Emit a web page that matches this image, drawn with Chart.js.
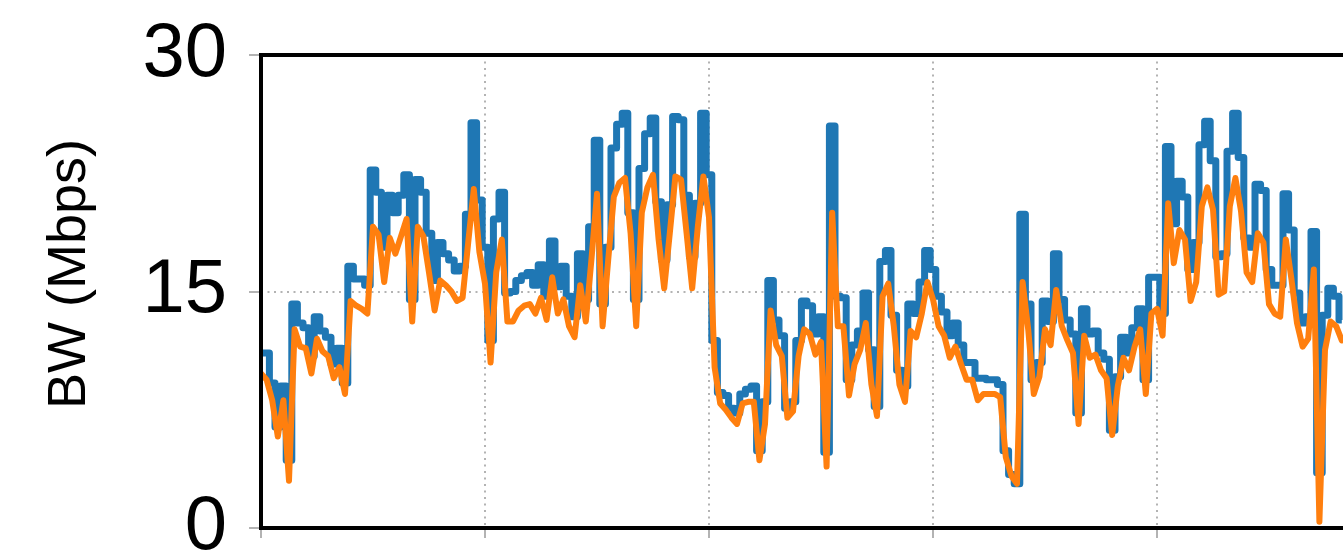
<!DOCTYPE html>
<html>
<head>
<meta charset="utf-8">
<script src="https://cdn.jsdelivr.net/npm/chart.js@4/dist/chart.umd.min.js"></script>
<style>
  html, body { margin: 0; padding: 0; background: #ffffff; overflow: hidden; width: 1343px; height: 554px; }
  #wrap { position: absolute; left: 0; top: 0; width: 1343px; height: 554px; overflow: hidden; }
  #bw { position: absolute; left: 0; top: 0; width: 1400px; height: 554px; }
</style>
</head>
<body>
<div id="wrap"><canvas id="bw" width="1400" height="554"></canvas></div>
<script>
// Measured throughput per sample (Mbps), drawn as a step trace
const measuredBW = [
  11.1, 11.1, 9.2, 6.4, 9.0, 4.3, 14.2, 13.0, 12.7, 10.9,
  13.4, 12.5, 12.1, 10.4, 11.4, 9.2, 16.6, 15.8, 15.8, 15.4,
  22.7, 21.3, 17.8, 21.1, 20.0, 21.1, 22.4, 14.5, 22.1, 21.3,
  18.7, 15.7, 18.1, 17.4, 17.0, 16.3, 16.6, 19.9, 25.7, 20.8,
  17.8, 11.9, 19.6, 21.3, 14.9, 15.0, 15.7, 16.0, 16.2, 15.4,
  16.7, 14.7, 18.2, 15.3, 16.6, 14.7, 13.4, 17.4, 14.5, 19.1,
  24.6, 14.2, 17.8, 24.1, 25.6, 26.3, 20.0, 14.5, 22.8, 25.0,
  26.0, 20.7, 17.0, 20.5, 26.1, 25.9, 21.1, 17.2, 20.6, 26.3,
  22.4, 11.9, 8.6, 8.4, 7.6, 7.3, 8.5, 8.8, 9.0, 4.9,
  8.0, 15.7, 13.2, 12.2, 7.6, 8.0, 11.9, 14.4, 14.1, 12.3,
  13.4, 4.8, 25.5, 14.7, 14.6, 9.4, 11.6, 12.5, 14.9, 11.3,
  7.7, 16.9, 17.6, 13.5, 10.0, 9.0, 14.2, 13.6, 15.6, 17.6,
  16.4, 14.7, 13.7, 12.2, 13.0, 11.6, 10.5, 10.5, 9.5, 9.5,
  9.4, 9.4, 9.1, 4.9, 3.4, 2.8, 19.9, 14.2, 9.4, 10.5,
  14.4, 13.1, 17.4, 14.5, 13.2, 12.3, 7.3, 13.9, 12.3, 12.5,
  11.1, 10.7, 6.2, 9.6, 12.1, 11.1, 12.7, 13.9, 9.4, 15.9,
  15.9, 13.6, 24.2, 19.3, 22.0, 21.0, 16.4, 18.1, 24.3, 25.8,
  23.3, 17.2, 17.4, 23.9, 26.3, 23.5, 18.4, 17.8, 21.8, 21.4,
  16.4, 15.4, 15.4, 21.2, 18.9, 14.9, 13.0, 13.4, 18.8, 3.5,
  13.5, 15.2, 14.7, 13.2
];

// Estimated throughput per sample (Mbps), drawn as a plain polyline
const estimatedBW = [
  9.8, 9.4, 8.1, 5.8, 8.1, 3.0, 12.6, 11.5, 11.4, 9.8,
  12.0, 11.2, 10.9, 9.5, 10.2, 8.5, 14.4, 14.1, 13.9, 13.6,
  19.1, 18.6, 15.6, 18.4, 17.4, 18.5, 19.6, 13.1, 19.1, 18.5,
  16.2, 13.8, 15.7, 15.4, 15.0, 14.4, 14.6, 18.1, 21.5, 17.5,
  15.5, 10.5, 16.2, 18.3, 13.1, 13.1, 13.8, 14.1, 14.2, 13.6,
  14.6, 13.2, 15.9, 13.6, 14.5, 12.8, 12.1, 15.4, 13.1, 17.0,
  21.2, 12.8, 17.0, 21.0, 21.9, 22.2, 18.7, 12.8, 20.0, 21.6,
  22.4, 18.3, 15.2, 18.7, 22.3, 22.1, 18.7, 15.2, 19.1, 22.3,
  19.7, 10.2, 7.9, 7.5, 7.0, 6.6, 7.9, 8.0, 8.0, 4.3,
  6.6, 13.8, 11.6, 10.9, 7.0, 7.4, 10.9, 12.6, 12.3, 11.0,
  11.8, 3.9, 20.0, 12.8, 12.8, 8.4, 10.4, 11.3, 13.0, 9.1,
  7.1, 14.7, 15.5, 12.8, 9.1, 8.0, 12.5, 12.1, 13.6, 15.6,
  14.5, 12.8, 12.2, 10.8, 11.5, 10.4, 9.4, 9.4, 8.1, 8.5,
  8.5, 8.5, 8.3, 4.5, 3.3, 2.8, 15.6, 12.6, 8.5, 9.6,
  12.6, 11.6, 15.1, 12.8, 11.9, 11.1, 6.6, 12.2, 10.8, 11.0,
  10.0, 9.5, 5.9, 9.0, 10.8, 10.0, 11.5, 12.6, 8.5, 13.6,
  13.9, 12.2, 20.6, 16.8, 18.9, 18.3, 14.4, 15.6, 20.4, 21.6,
  20.2, 14.8, 15.0, 20.4, 22.2, 20.1, 16.2, 15.6, 18.7, 18.1,
  14.2, 13.6, 13.4, 18.3, 15.8, 13.0, 11.5, 12.0, 16.4, 0.4,
  11.3, 13.1, 12.8, 11.9
];

// Axis ticks
const bwTicks = [0, 15, 30];
const sampleTicks = [0, 40, 80, 120, 160, 200];
const yTitle = 'BW (Mbps)';

const FONT = '"Liberation Sans", Arial, Helvetica, sans-serif';

const toPoints = (vals) => vals.map((v, i) => ({ x: i, y: v }));

// Black box around the plotting area, drawn over the traces
const frame = {
  id: 'frame',
  afterDatasetsDraw(chart) {
    const { ctx, chartArea: a } = chart;
    ctx.save();
    ctx.strokeStyle = '#000000';
    ctx.lineWidth = 4;
    ctx.lineJoin = 'miter';
    ctx.strokeRect(a.left, a.top, a.right - a.left, a.bottom - a.top);
    ctx.restore();
  }
};

// Rotated y-axis caption
const yCaption = {
  id: 'yCaption',
  afterDraw(chart) {
    const { ctx } = chart;
    ctx.save();
    ctx.translate(85, 274);
    ctx.rotate(-Math.PI / 2);
    ctx.font = '54px ' + FONT;
    ctx.fillStyle = '#000000';
    ctx.textAlign = 'center';
    ctx.textBaseline = 'alphabetic';
    ctx.fillText(yTitle, 0, 0);
    ctx.restore();
  }
};

new Chart(document.getElementById('bw'), {
  type: 'line',
  data: {
    datasets: [
      {
        label: 'estimated',
        data: toPoints(estimatedBW),
        borderColor: '#ff7f0e',
        borderWidth: 6,
        pointRadius: 0,
        tension: 0,
        borderJoinStyle: 'round',
        borderCapStyle: 'round',
        order: 0
      },
      {
        label: 'measured',
        data: toPoints(measuredBW),
        borderColor: '#1f77b4',
        borderWidth: 7,
        pointRadius: 0,
        stepped: 'middle',
        borderJoinStyle: 'round',
        borderCapStyle: 'butt',
        order: 1
      }
    ]
  },
  options: {
    responsive: false,
    maintainAspectRatio: false,
    devicePixelRatio: 1,
    animation: false,
    events: [],
    layout: { padding: { top: 55, right: 19, bottom: 0, left: 0 } },
    plugins: { legend: { display: false }, tooltip: { enabled: false } },
    scales: {
      x: {
        type: 'linear',
        min: sampleTicks[0],
        max: sampleTicks[sampleTicks.length - 1],
        afterBuildTicks(scale) { scale.ticks = sampleTicks.map(v => ({ value: v })); },
        ticks: { display: false },
        grid: {
          color: '#b3b3b3',
          lineWidth: 2,
          drawTicks: true,
          tickLength: 10,
          tickColor: '#9a9a9a',
          tickWidth: 1.5,
          tickBorderDash: []
        },
        border: { display: false, dash: [2, 4.5] },
        afterFit(scale) {
          scale.height = 26;
          scale.paddingLeft = 0;
          scale.paddingRight = 0;
        }
      },
      y: {
        min: bwTicks[0],
        max: bwTicks[bwTicks.length - 1],
        afterBuildTicks(scale) { scale.ticks = bwTicks.map(v => ({ value: v })); },
        ticks: {
          color: '#000000',
          padding: 22,
          font: { family: FONT, size: 76 }
        },
        grid: {
          color: '#b3b3b3',
          lineWidth: 2,
          drawTicks: true,
          tickLength: 12,
          tickColor: '#9a9a9a',
          tickWidth: 1.5,
          tickBorderDash: []
        },
        border: { display: false, dash: [2, 4.5] },
        afterFit(scale) {
          scale.width = 261;
          scale.paddingTop = 0;
          scale.paddingBottom = 0;
        }
      }
    }
  },
  plugins: [frame, yCaption]
});
</script>
</body>
</html>
